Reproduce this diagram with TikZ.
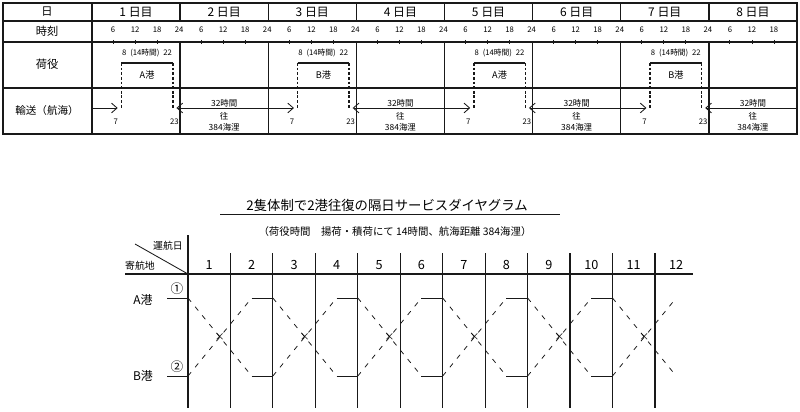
\documentclass[tikz,border=0pt]{standalone}
\usepackage{fontspec}
\setmainfont{Noto Sans CJK JP}
\usetikzlibrary{arrows.meta}
\colorlet{ink}{black!90}
\tikzset{
  rule/.style={draw=ink,line width=0.9pt},
  berth/.style={draw=ink,line width=2pt},
  stay/.style={draw=ink,line width=1.1pt,dash pattern=on 2pt off 1.3pt},
  trip/.style={draw=ink,line width=0.6pt},
  barb/.tip={Straight Barb[length=4pt,width=7pt,line width=0.6pt]},
  route/.style={draw=ink,line width=0.55pt,dash pattern=on 3.5pt off 4.5pt},
  rowlbl/.style={font=\fontsize{8}{9}\selectfont,inner sep=0pt},
  daylbl/.style={font=\fontsize{8.5}{9}\selectfont,inner sep=0pt},
  hourlbl/.style={font=\fontsize{5.5}{6}\selectfont,inner sep=0pt},
  celllbl/.style={font=\fontsize{6}{7}\selectfont,inner sep=0pt},
  collbl/.style={font=\fontsize{9}{10}\selectfont,inner sep=0pt},
}
\def\dw{88.125}
\def\cw{42.45}

\begin{document}
\begin{tikzpicture}[x=0.025cm,y=-0.025cm]
  \useasboundingbox (0,0) rectangle (800,412);

  % --- upper table: day / hour schedule
  \draw [rule] (3,3) rectangle (797,134);
  \foreach \y in {21,42,88}
    \draw [rule] (3,\y) -- (797,\y);
  \draw [rule] (92,3) -- (92,134);
  \node [rowlbl] (hd) at (47,12) {日};
  \node [rowlbl] (hr) at (47,31) {時刻};
  \node [rowlbl] (hl) at (47,64) {荷役};
  \node [rowlbl,font=\fontsize{7.5}{8}\selectfont] (hs) at (47,110) {輸送（航海）};

  \foreach \d in {1,...,8}
  {
    \pgfmathsetmacro{\xl}{92+(\d-1)*\dw}
    \node [daylbl] (day\d) at (\xl+\dw/2,12) {\d\ 日目};
    \foreach \h in {6,12,18}
    {
      \node [hourlbl] (h\d-\h) at (\xl+\h*\dw/24-1,30) {\h};
      \draw [rule,line width=0.6pt] (\xl+\h*\dw/24-1,40) -- (\xl+\h*\dw/24-1,44);
    }
    \ifnum\d<8
      \draw [rule] (\xl+\dw,3) -- (\xl+\dw,21);
      \draw [rule] (\xl+\dw,42) -- (\xl+\dw,134);
      \node [hourlbl] (h\d-24) at (\xl+\dw-1,30) {24};
    \fi
  }

  % berthing at the ports, days 1,3,5,7
  \foreach \k/\p in {0/A,1/B,2/A,3/B}
  {
    \pgfmathsetmacro{\xl}{92+2*\k*\dw}
    \coordinate (in\k) at (\xl+7*\dw/24,108);
    \coordinate (out\k) at (\xl+23*\dw/24,108);
    \draw [berth] (\xl+8*\dw/24,63) -- (\xl+22*\dw/24,63);
    \draw [stay] (\xl+8*\dw/24,63) -- (\xl+8*\dw/24,108);
    \draw [stay] (\xl+22*\dw/24,63) -- (\xl+22*\dw/24,108);
    \node [celllbl,font=\fontsize{5.5}{6}\selectfont] (t\k) at (\xl+15*\dw/24,53)
      {8\enspace(14時間)\enspace22};
    \node [celllbl,font=\fontsize{6.5}{7}\selectfont] (port\k) at (\xl+15*\dw/24,75) {\p 港};
    \node [hourlbl] (a\k) at (\xl+7*\dw/24-2,122) {7};
    \node [hourlbl] (b\k) at (\xl+23*\dw/24-2,122) {23};
  }

  % voyages, days 2,4,6,8
  \coordinate (start) at (92,108);
  \coordinate (stop) at (797,108);
  \draw [trip,-barb] (start) -- (in0);
  \draw [trip,barb-barb] (out0) -- (in1);
  \draw [trip,barb-barb] (out1) -- (in2);
  \draw [trip,barb-barb] (out2) -- (in3);
  \draw [trip,barb-] (out3) -- (stop);
  \foreach \d in {2,4,6,8}
  {
    \pgfmathsetmacro{\xc}{92+(\d-0.5)*\dw}
    \node [celllbl] (v\d) at (\xc,103) {32時間};
    \node [celllbl] (w\d) at (\xc,116) {往};
    \node [celllbl] (n\d) at (\xc,127) {384海浬};
  }

  % --- lower diagram
  \node [font=\fontsize{9.5}{10}\selectfont,inner sep=0pt] (title) at (387,205)
    {2隻体制で2港往復の隔日サービスダイヤグラム};
  \draw [rule,line width=0.6pt] (220,214) -- (560,214);
  \node [font=\fontsize{7.4}{8}\selectfont,inner sep=0pt] (sub) at (395,232)
    {（荷役時間　揚荷・積荷にて 14時間、航海距離 384海浬）};

  \draw [rule,line width=0.8pt] (188,235) -- (188,408);
  \foreach \i in {1,...,11}
    \draw [rule,line width=0.8pt] (188+\i*\cw,253) -- (188+\i*\cw,408);
  \draw [rule,line width=0.8pt] (125,274) -- (693,274);
  \draw [rule,line width=0.6pt] (135,244) -- (188,274);
  \node [rowlbl,font=\fontsize{7}{8}\selectfont] (opday) at (168,246) {運航日};
  \node [rowlbl,font=\fontsize{7}{8}\selectfont] (call) at (140,266) {寄航地};
  \foreach \i in {1,...,12}
    \node [collbl] (c\i) at (188+\i*\cw-\cw/2,265) {\i};

  \node [daylbl] (pa) at (143,300) {A港};
  \node [daylbl] (pb) at (143,376) {B港};
  \node [collbl] (na) at (177,289) {①};
  \node [collbl] (nb) at (177,367) {②};
  \draw [rule,line width=0.6pt] (167,298) -- (188,298);
  \draw [rule,line width=0.6pt] (167,376) -- (188,376);

  \foreach \k in {0,...,5}
  {
    \pgfmathsetmacro{\xo}{188+2*\k*\cw}
    \draw [route] (\xo,298) -- (\xo+1.5*\cw,376);
    \draw [route] (\xo,376) -- (\xo+1.5*\cw,298);
    \node [celllbl,font=\fontsize{7}{8}\selectfont] (x\k) at (\xo+0.75*\cw,337) {×};
    \ifnum\k<5
      \draw [trip] (\xo+1.5*\cw,298) -- (\xo+2*\cw,298);
      \draw [trip] (\xo+1.5*\cw,376) -- (\xo+2*\cw,376);
    \fi
  }
\end{tikzpicture}
\end{document}
